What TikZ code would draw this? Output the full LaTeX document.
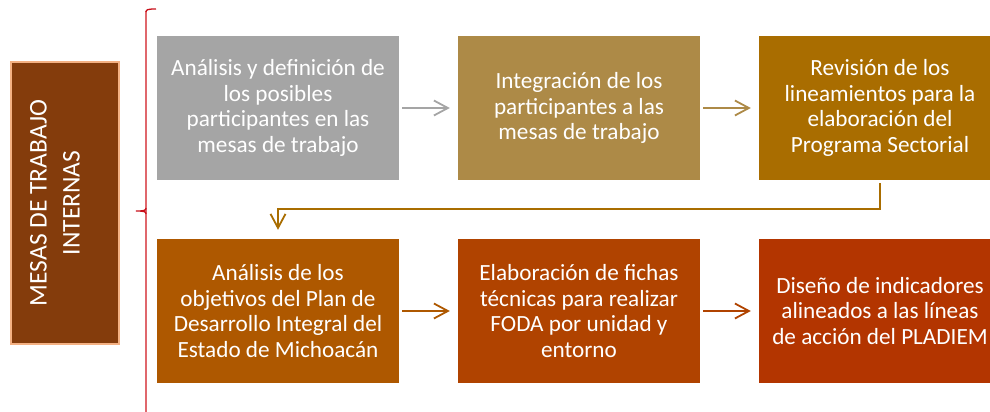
\documentclass[tikz,border=0pt]{standalone}
\usepackage{fontspec}
\setmainfont{Carlito}
\usetikzlibrary{arrows.meta}
\definecolor{cside}{HTML}{843C0C}
\definecolor{csideb}{HTML}{F4B183}
\definecolor{cone}{HTML}{A5A5A5}
\definecolor{ctwo}{HTML}{AD8A47}
\definecolor{cthree}{HTML}{A96D00}
\definecolor{cfour}{HTML}{AE5800}
\definecolor{cfive}{HTML}{B04300}
\definecolor{csix}{HTML}{B33500}
\definecolor{cbrace}{HTML}{E0676C}
\definecolor{cbracedark}{HTML}{C8101A}
\tikzset{
  stepbox/.style={rectangle, minimum width=242pt, minimum height=144pt, inner sep=0pt,
    text=white, align=center, font=\fontsize{23.2}{25.4}\selectfont},
  arr/.style={line width=1.8pt, -{Straight Barb[length=14pt,width=15pt,line width=1.8pt]},
    shorten <=3pt, shorten >=8pt},
}
\begin{document}
\begin{tikzpicture}[x=1pt,y=-1pt]
\useasboundingbox (0,0) rectangle (990,412);
\clip (0,0) rectangle (990,412);
% side box
\node[rectangle, rotate=90, minimum width=282pt, minimum height=108pt, inner sep=0pt,
  fill=cside, draw=csideb, line width=1.5pt] (side) at (65,203) {};
\node[rotate=90, inner sep=0pt, text=white, align=center,
  font=\fontsize{25.5}{33}\selectfont] (sidetext) at (55,203) {MESAS DE TRABAJO\\INTERNAS};
% brace
\draw[cbrace, line width=2pt] (146,11) -- (146,414);
\draw[cbracedark, line width=1.3pt] (146,12) .. controls (146,9.5) and (148,9) .. (156,9);
\draw[cbracedark, line width=1.3pt] (146,208) .. controls (146,210.5) and (144,211) .. (136,211)
  .. controls (144,211) and (146,211.5) .. (146,214);
% boxes
\node[stepbox, fill=cone] (b1) at (278,108) {Análisis y definición de\\los posibles\\participantes en las\\mesas de trabajo};
\node[stepbox, fill=ctwo] (b2) at (579,108) {Integración de los\\participantes a las\\mesas de trabajo};
\node[stepbox, fill=cthree] (b3) at (880,108) {Revisión de los\\lineamientos para la\\elaboración del\\Programa Sectorial};
\node[stepbox, fill=cfour] (b4) at (278,311) {Análisis de los\\objetivos del Plan de\\Desarrollo Integral del\\Estado de Michoacán};
\node[stepbox, fill=cfive] (b5) at (579,311) {Elaboración de fichas\\técnicas para realizar\\FODA por unidad y\\entorno};
\node[stepbox, fill=csix] (b6) at (880,311) {Diseño de indicadores\\alineados a las líneas\\de acción del PLADIEM};
% connectors
\draw[arr, cone] (b1.east) -- (b2.west);
\draw[arr, ctwo] (b2.east) -- (b3.west);
\coordinate (turn) at (0,209);
\draw[arr, cthree, shorten >=9pt] (b3.south) -- (b3.south |- turn) -| (b4.north);
\draw[arr, cfour] (b4.east) -- (b5.west);
\draw[arr, cfive] (b5.east) -- (b6.west);
\end{tikzpicture}
\end{document}
